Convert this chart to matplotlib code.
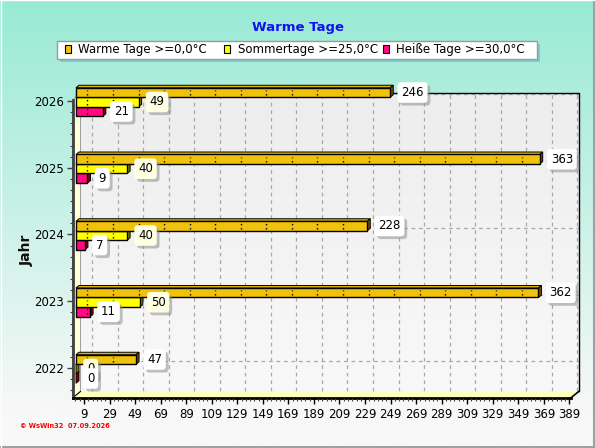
import numpy as np
import matplotlib
matplotlib.use("Agg")
import matplotlib.pyplot as plt
import matplotlib.patheffects as pe
from matplotlib.patches import Rectangle, Polygon
from matplotlib.transforms import ScaledTranslation
from matplotlib.ticker import MultipleLocator, FixedLocator

# Daten
years = [2022, 2023, 2024, 2025, 2026]
warme_tage = [47, 362, 228, 363, 246]
sommertage = [0, 50, 40, 40, 49]
heisse_tage = [0, 11, 7, 9, 21]

series_names = ["Warme Tage >=0,0°C", "Sommertage >=25,0°C", "Heiße Tage >=30,0°C"]
x_ticks = list(range(9, 390, 20))

W, H, DPI = 595, 448, 100
XMAX = 390

# Achsenrahmen (Vorderebene) in Pixeln
AX_L, AX_R, AX_T, AX_B = 72.5, 570.7, 100.0, 398.0
PPX = (AX_R - AX_L) / XMAX      # Pixel pro Tag
PPY = 66.75                     # Pixel pro Jahr
ylo = 2022 - (AX_B - 368) / PPY
yhi = 2026 + (101 - AX_T) / PPY

DEPTH_X, DEPTH_Y = 8.0, 6.5     # 3D-Tiefe der Wand
BAR_DX, BAR_DY = 3.0, 2.5       # 3D-Tiefe der Balken
BAR_H = 9.5 / PPY


def fx(x):
    return x / W


def fy(y):
    return 1 - y / H


fig = plt.figure(figsize=(W / DPI, H / DPI), dpi=DPI)

# Hintergrund-Verlauf
bg = fig.add_axes([0, 0, 1, 1], zorder=-10)
top_c = np.array([152, 234, 212]) / 255
bot_c = np.array([248, 248, 248]) / 255
t = np.clip(np.linspace(0, 1, 256) / 0.92, 0, 1)[:, None]
grad = (top_c * (1 - t) + bot_c * t)[:, None, :]
bg.imshow(grad, extent=[0, 1, 0, 1], aspect="auto", origin="upper")
bg.set_xlim(0, 1)
bg.set_ylim(0, 1)
bg.axis("off")
bg.plot([0, 1], [0.0015, 0.0015], color="#a0a0a0", lw=1.5)
bg.plot([0.9985, 0.9985], [0, 1], color="#a0a0a0", lw=1.5)
bg.plot([0, 1], [0.999, 0.999], color="white", lw=1)
bg.plot([0.0012, 0.0012], [0, 1], color="white", lw=1)

ax = fig.add_axes([fx(AX_L), fy(AX_B), (AX_R - AX_L) / W, (AX_B - AX_T) / H])
ax.set_facecolor("none")


def shifted(dx, dy):
    # Verschiebung in Pixeln (dy nach unten positiv)
    return ax.transData + ScaledTranslation(dx / DPI, -dy / DPI, fig.dpi_scale_trans)


wall_tr = shifted(DEPTH_X, -DEPTH_Y)
ddx = DEPTH_X / PPX
ddy = DEPTH_Y / PPY

# Rückwand mit leichtem Verlauf
wall_grad = np.linspace(0.93, 0.975, 64)[:, None, None] * np.ones((1, 1, 3))
ax.imshow(wall_grad, extent=(0, XMAX, ylo, yhi), aspect="auto", origin="upper",
          transform=wall_tr, zorder=0.2, clip_on=False)

# Gitterlinien auf der Rückwand
for xt in x_ticks:
    ax.plot([xt, xt], [ylo, yhi], color="#a8a8a8", lw=0.9, ls=(0, (3, 3)),
            transform=wall_tr, zorder=0.5, clip_on=False)
for yr in years:
    ax.plot([0, XMAX], [yr, yr], color="#a8a8a8", lw=0.9, ls=(0, (3, 3)),
            transform=wall_tr, zorder=0.5, clip_on=False)

# Rahmen der Rückwand
ax.plot([0, XMAX, XMAX], [yhi, yhi, ylo], color="black", lw=1,
        transform=wall_tr, zorder=0.6, clip_on=False)

# linke Wand und Boden
ax.add_patch(Polygon([(0, ylo), (0, yhi), (ddx, yhi + ddy), (ddx, ylo + ddy)],
                     closed=True, fc="#ffffd8", ec="#909090", lw=0.6, zorder=0.7, clip_on=False))
ax.add_patch(Polygon([(0, ylo), (XMAX, ylo), (XMAX + ddx, ylo + ddy), (ddx, ylo + ddy)],
                     closed=True, fc="#ffffb8", ec="none", zorder=0.7, clip_on=False))
ax.plot([XMAX, XMAX + ddx], [ylo, ylo + ddy], color="black", lw=1.2, zorder=0.8, clip_on=False)
ax.plot([0, ddx], [ylo, ylo + ddy], color="black", lw=0.8, zorder=0.8, clip_on=False)

# Balken
bar_tr = shifted(3.5, 1.0)
bdx = BAR_DX / PPX
bdy = BAR_DY / PPY

colors = ["#f0c20c", "#ffff00", "#ff0a82"]
top_colors = ["#e2b400", "#eeee00", "#e8007a"]
side_colors = ["#7a4c00", "#808000", "#800000"]
label_bg = ["#ffffff", "#ffffe4", "#ffffff"]
offsets = [BAR_H, 0.0, -BAR_H]
all_series = [warme_tage, sommertage, heisse_tage]

# von unten nach oben zeichnen, damit die obere Front die Oberseite verdeckt
for yi, yr in enumerate(years):
    for si in [2, 1, 0]:
        v = all_series[si][yi]
        yc = yr + offsets[si]
        y0, y1 = yc - BAR_H / 2, yc + BAR_H / 2
        z = 2 + (2 - si) * 0.1
        ax.add_patch(Polygon([(0, y1), (v, y1), (v + bdx, y1 + bdy), (bdx, y1 + bdy)],
                             closed=True, fc=top_colors[si], ec="black", lw=0.7,
                             transform=bar_tr, zorder=z, clip_on=False))
        ax.add_patch(Polygon([(v, y0), (v + bdx, y0 + bdy), (v + bdx, y1 + bdy), (v, y1)],
                             closed=True, fc=side_colors[si], ec="black", lw=0.7,
                             transform=bar_tr, zorder=z, clip_on=False))
        if v > 0:
            ax.add_patch(Rectangle((0, y0), v, BAR_H, fc=colors[si], ec="black", lw=1,
                                   transform=bar_tr, zorder=z + 0.01, clip_on=False))
            for xt in x_ticks:
                if xt < v - 1:
                    ax.plot([xt, xt], [yc - BAR_H * 0.28, yc + BAR_H * 0.28], color="black",
                            lw=1, ls=(0, (1, 2)), transform=bar_tr, zorder=z + 0.02,
                            clip_on=False)

# Wertebeschriftungen mit Schatten
shadow = [pe.withSimplePatchShadow(offset=(2, -2), shadow_rgbFace="#909090", alpha=0.55)]
for yi, yr in enumerate(years):
    for si in [0, 1, 2]:
        v = all_series[si][yi]
        yc = yr + offsets[si]
        txt = ax.annotate(str(v), xy=(v, yc), xycoords=bar_tr, xytext=(11, 0),
                          textcoords="offset pixels", ha="left", va="center", fontsize=8.5,
                          color="black", zorder=5 + si * 0.1 + yi,
                          bbox=dict(boxstyle="round,pad=0.32,rounding_size=0.3",
                                    fc=label_bg[si], ec="none"))
        txt.get_bbox_patch().set_path_effects(shadow)

# Achsen
ax.set_xlim(0, XMAX)
ax.set_ylim(ylo, yhi)
for s in ["top", "right"]:
    ax.spines[s].set_visible(False)
ax.spines["left"].set_color("#404040")
ax.spines["left"].set_linewidth(2)
ax.spines["bottom"].set_color("black")
ax.spines["bottom"].set_linewidth(2)
ax.spines["left"].set_zorder(1)
ax.spines["bottom"].set_zorder(1)

ax.set_xticks(x_ticks)
ax.xaxis.set_minor_locator(FixedLocator([9 + k * 20 / 6 for k in range(-2, 115)
                                         if 0 <= 9 + k * 20 / 6 <= XMAX]))
ax.set_yticks(years)
ax.yaxis.set_minor_locator(MultipleLocator(1 / 6))
ax.tick_params(axis="x", which="major", length=4, width=1, color="black", pad=3, labelsize=8.5)
ax.tick_params(axis="x", which="minor", length=2, width=0.8, color="#404040")
ax.tick_params(axis="y", which="major", length=4, width=1, color="#404040", pad=2, labelsize=8.5)
ax.tick_params(axis="y", which="minor", length=2, width=0.8, color="#404040")
ax.grid(False)

fig.text(fx(27), fy(250), "Jahr", rotation=90, ha="center", va="center",
         fontsize=10, fontweight="bold", color="#101010")

# Titel
fig.text(fx(297.5), fy(27), "Warme Tage", ha="center", va="center", fontsize=9.5,
         fontweight="bold", color="#1010f0")

# Legende
fig.patches.append(Rectangle((fx(60), fy(62)), fx(537) - fx(57), fy(41) - fy(59),
                             transform=fig.transFigure, fc="#60b8c8", ec="none", alpha=0.6,
                             zorder=1))
fig.patches.append(Rectangle((fx(57), fy(59)), fx(537) - fx(57), fy(41) - fy(59),
                             transform=fig.transFigure, fc="white", ec="#9a9a9a", lw=1,
                             zorder=2))
leg_sq_x = [64.5, 224, 383]
leg_txt_x = [78.5, 237.5, 396]
for i, name in enumerate(series_names):
    fig.patches.append(Rectangle((fx(leg_sq_x[i]), fy(53.5)), 6 / W, 8 / H,
                                 transform=fig.transFigure, fc=colors[i], ec="black",
                                 lw=0.8, zorder=3))
    fig.text(fx(leg_txt_x[i]), fy(49.5), name, ha="left", va="center", fontsize=8.5,
             color="black", zorder=4)

fig.text(fx(20), fy(426), "© WsWin32  07.09.2026", ha="left", va="center",
         fontsize=4.8, fontweight="bold", color="red")

fig.savefig("out.png", dpi=DPI)
